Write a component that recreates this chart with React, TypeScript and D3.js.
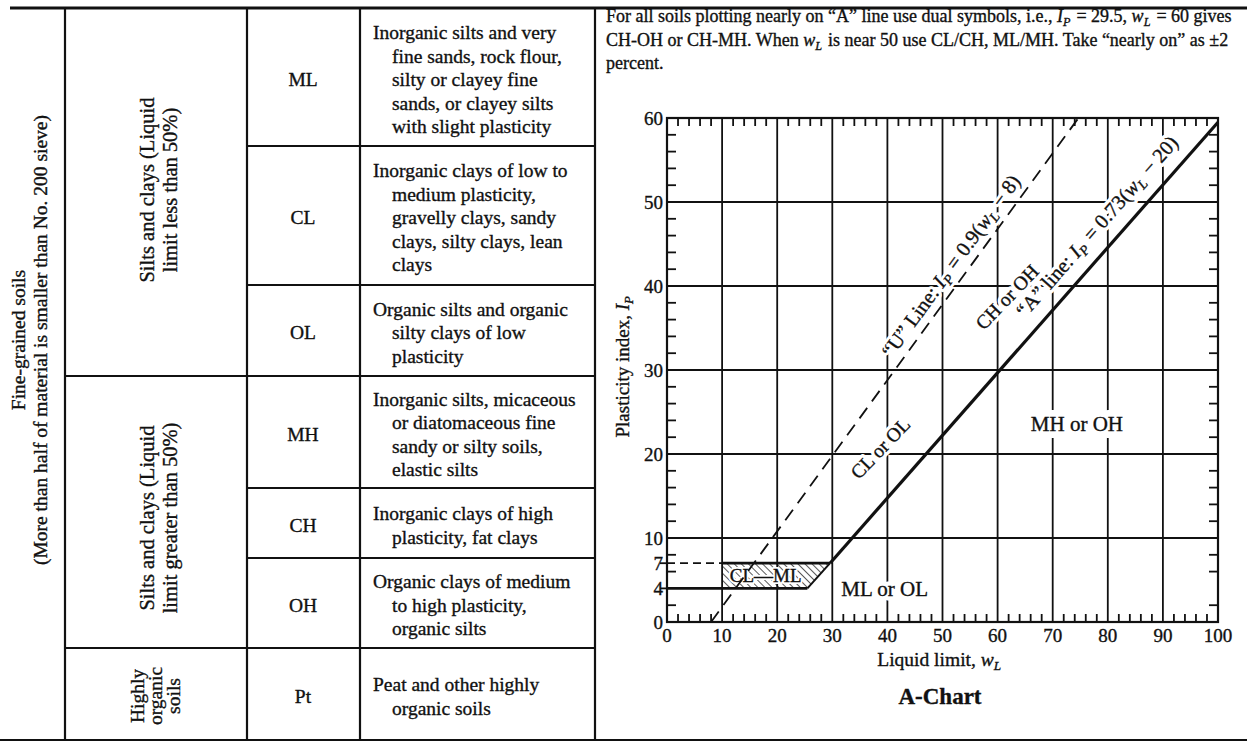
import React from "react";
import * as d3 from "d3";

// ---------- Table data ----------
const symbols = ["ML", "CL", "OL", "MH", "CH", "OH", "Pt"];
const descriptions = [
  ["Inorganic silts and very", "fine sands, rock flour,", "silty or clayey fine", "sands, or clayey silts", "with slight plasticity"],
  ["Inorganic clays of low to", "medium plasticity,", "gravelly clays, sandy", "clays, silty clays, lean", "clays"],
  ["Organic silts and organic", "silty clays of low", "plasticity"],
  ["Inorganic silts, micaceous", "or diatomaceous fine", "sandy or silty soils,", "elastic silts"],
  ["Inorganic clays of high", "plasticity, fat clays"],
  ["Organic clays of medium", "to high plasticity,", "organic silts"],
  ["Peat and other highly", "organic soils"],
];
const groupLow = ["Silts and clays (Liquid", "limit less than 50%)"];
const groupHigh = ["Silts and clays (Liquid", "limit greater than 50%)"];
const groupOrganic = ["Highly", "organic", "soils"];
const fineGrained = ["Fine-grained soils", "(More than half of material is smaller than No. 200 sieve)"];

// ---------- Chart data ----------
const xTickValues = [0, 10, 20, 30, 40, 50, 60, 70, 80, 90, 100];
const yTickLabels = [0, 4, 7, 10, 20, 30, 40, 50, 60];
const gridX = [10, 20, 30, 40, 50, 60, 70, 80, 90];
const gridY = [10, 20, 30, 40, 50];
const minorTicksX = [2, 4, 6, 8, 12, 14, 16, 18, 22, 24, 26, 28, 32, 34, 36, 38, 42, 44, 46, 48, 52, 54, 56, 58, 62, 64, 66, 68, 72, 74, 76, 78, 82, 84, 86, 88, 92, 94, 96, 98];
const minorTicksY = [2, 6, 8, 12, 14, 16, 18, 22, 24, 26, 28, 32, 34, 36, 38, 42, 44, 46, 48, 52, 54, 56, 58];
const uLine: [number, number][] = [[8, 0], [74.67, 60]];
const aLine: [number, number][] = [[29.59, 7], [100, 59.5]];
const line4: [number, number][] = [[0, 4], [25.48, 4]];
const line7Dashed: [number, number][] = [[0, 7], [10, 7]];
const line7: [number, number][] = [[10, 7], [29.59, 7]];
const clmlZone: [number, number][] = [[10, 4], [25.48, 4], [29.59, 7], [10, 7]];

const SERIF = "'Liberation Serif', 'Times New Roman', serif";

export default function App() {
  const x = d3.scaleLinear().domain([0, 100]).range([667, 1218]);
  const y = d3.scaleLinear().domain([0, 60]).range([622, 118]);
  const lineGen = d3.line<[number, number]>().x((d) => x(d[0])).y((d) => y(d[1]));
  const ang = (pts: [number, number][]) =>
    (Math.atan2(y(pts[1][1]) - y(pts[0][1]), x(pts[1][0]) - x(pts[0][0])) * 180) / Math.PI;
  const uAng = ang(uLine);
  const aAng = ang(aLine);

  const rowBounds = [9, 146, 285, 376, 488, 558, 648, 740];
  const fs = 19.5;
  const lh = 23.5;
  const lineW = 2.2;
  const ink = { stroke: "#111", strokeWidth: 0.35 };

  const chartLabel = (
    key: string,
    cx: number,
    cy: number,
    rot: number,
    content: React.ReactNode,
    size = 19.5,
    haloW = 7
  ) => (
    <g key={key}>
      <text
        transform={`translate(${x(cx)},${y(cy)}) rotate(${rot})`}
        textAnchor="middle"
        dy="0.35em"
        fontSize={size}
        fill="#fff"
        stroke="#fff"
        strokeWidth={haloW}
        strokeLinejoin="round"
      >
        {content}
      </text>
      <text
        transform={`translate(${x(cx)},${y(cy)}) rotate(${rot})`}
        textAnchor="middle"
        dy="0.35em"
        fontSize={size}
        fill="#111"
        {...ink}
      >
        {content}
      </text>
    </g>
  );

  const sub = (main: string, s: string) => (
    <>
      <tspan fontStyle="italic">{main}</tspan>
      <tspan fontStyle="italic" fontSize="0.68em" dy="4">{s}</tspan>
      <tspan dy="-4">{"\u200A"}</tspan>
    </>
  );

  return (
    <svg width={1247} height={742} style={{ position: "absolute", left: 0, top: 0, background: "#fff" }} fontFamily={SERIF} fill="#111">
      <defs>
        <pattern id="hatch" patternUnits="userSpaceOnUse" width="5" height="5" patternTransform="rotate(-45)">
          <line x1="0" y1="0" x2="0" y2="5" stroke="#111" strokeWidth="1.4" />
        </pattern>
      </defs>
      <rect x={0} y={0} width={1247} height={742} fill="#fff" />

      {/* ---------- Table frame ---------- */}
      <g stroke="#111" strokeWidth={lineW} fill="none">
        <line x1={10} y1={8} x2={1247} y2={8} strokeWidth={3} />
        <line x1={0} y1={740} x2={1247} y2={740} />
        <line x1={65} y1={8} x2={65} y2={740} />
        <line x1={247} y1={8} x2={247} y2={740} />
        <line x1={360} y1={8} x2={360} y2={740} />
        <line x1={595} y1={8} x2={595} y2={740} />
        {[146, 285, 488, 558].map((v) => (
          <line key={v} x1={247} y1={v} x2={595} y2={v} />
        ))}
        {[376, 648].map((v) => (
          <line key={v} x1={65} y1={v} x2={595} y2={v} />
        ))}
      </g>

      <g {...ink}>
        {/* Fine-grained label */}
        <text transform="translate(29,340) rotate(-90)" textAnchor="middle" fontSize={fs}>
          {fineGrained.map((t, i) => (
            <tspan key={i} x={0} y={i * 22 - 11} dy="0.35em">{t}</tspan>
          ))}
        </text>
        {/* Group labels */}
        <text transform="translate(158,190) rotate(-90)" textAnchor="middle" fontSize={20.5}>
          {groupLow.map((t, i) => (
            <tspan key={i} x={0} y={i * 23 - 11.5} dy="0.35em">{t}</tspan>
          ))}
        </text>
        <text transform="translate(158,518) rotate(-90)" textAnchor="middle" fontSize={20.5}>
          {groupHigh.map((t, i) => (
            <tspan key={i} x={0} y={i * 23 - 11.5} dy="0.35em">{t}</tspan>
          ))}
        </text>
        <text transform="translate(155,696) rotate(-90)" textAnchor="middle" fontSize={fs}>
          {groupOrganic.map((t, i) => (
            <tspan key={i} x={0} y={(i - 1) * 18} dy="0.35em">{t}</tspan>
          ))}
        </text>

        {/* Symbols and descriptions */}
        {symbols.map((s, i) => {
          const cy = (rowBounds[i] + rowBounds[i + 1]) / 2 + 2;
          const lines = descriptions[i];
          return (
            <g key={s}>
              <text x={303} y={cy} dy="0.35em" textAnchor="middle" fontSize={fs}>{s}</text>
              {lines.map((t, j) => (
                <text key={j} x={j === 0 ? 373 : 392} y={cy + (j - (lines.length - 1) / 2) * lh} dy="0.35em" fontSize={fs}>
                  {t}
                </text>
              ))}
            </g>
          );
        })}

        {/* ---------- Note ---------- */}
        <g fontSize={18}>
          <text x={606} y={22}>
            For all soils plotting nearly on “A” line use dual symbols, i.e., {sub("I", "P")} = 29.5, {sub("w", "L")} = 60 gives
          </text>
          <text x={606} y={46}>
            CH-OH or CH-MH. When {sub("w", "L")} is near 50 use CL/CH, ML/MH. Take “nearly on” as ±2
          </text>
          <text x={606} y={69}>percent.</text>
        </g>
      </g>

      {/* ---------- Chart ---------- */}
      <g stroke="#111" strokeWidth={1.8}>
        {gridX.map((v) => (
          <line key={"gx" + v} x1={x(v)} x2={x(v)} y1={y(0)} y2={y(60)} />
        ))}
        {gridY.map((v) => (
          <line key={"gy" + v} x1={x(0)} x2={x(100)} y1={y(v)} y2={y(v)} />
        ))}
        {minorTicksX.map((v) => (
          <g key={"mt" + v}>
            <line x1={x(v)} x2={x(v)} y1={y(0)} y2={y(0) - 8} />
            <line x1={x(v)} x2={x(v)} y1={y(60)} y2={y(60) + 8} />
          </g>
        ))}
        {minorTicksY.map((v) => (
          <g key={"my" + v}>
            <line x1={x(0)} x2={x(0) + 9} y1={y(v)} y2={y(v)} />
            <line x1={x(100)} x2={x(100) - 9} y1={y(v)} y2={y(v)} />
          </g>
        ))}
        {[4, 7].map((v) => (
          <line key={"ot" + v} x1={x(0) - 7} x2={x(0)} y1={y(v)} y2={y(v)} />
        ))}
      </g>

      {/* CL-ML hatched zone */}
      <path d={lineGen(clmlZone) + "Z"} fill="url(#hatch)" stroke="none" />

      {/* region labels with white halos (break gridlines) */}
      {chartLabel("clol", 38.7, 20.7, -46, "CL or OL", 19.5)}
      {chartLabel("choh", 61.7, 38.7, -46, "CH or OH", 19.5)}
      {chartLabel("mloh", 39.5, 4.0, 0, "ML or OL", 21, 9)}
      {chartLabel("mhoh", 74.4, 23.6, 0, "MH or OH", 21, 14)}
      {chartLabel("clml", 17.9, 5.6, 0, "CL—ML", 19, 4)}
      {chartLabel(
        "uline",
        51.5,
        42.4,
        uAng,
        <>“U” Line: {sub("I", "P")} = 0.9({sub("w", "L")} − 8)</>,
        20.5,
        6
      )}
      {chartLabel(
        "aline",
        78.0,
        47.1,
        aAng,
        <>“A” line: {sub("I", "P")} = 0.73({sub("w", "L")} − 20)</>,
        20.5,
        7
      )}

      {/* lines */}
      <g fill="none" stroke="#111">
        <path d={lineGen(uLine)!} strokeWidth={1.8} strokeDasharray="13,8" />
        <path d={lineGen(line7Dashed)!} strokeWidth={1.8} strokeDasharray="8,5" />
        <path d={lineGen(aLine)!} strokeWidth={3.2} />
        <path d={lineGen(line4)!} strokeWidth={2.8} />
        <path d={lineGen(line7)!} strokeWidth={2.8} />
        <path d={lineGen([clmlZone[1], clmlZone[2]])!} strokeWidth={2} />
      </g>

      {/* frame */}
      <rect x={x(0)} y={y(60)} width={x(100) - x(0)} height={y(0) - y(60)} fill="none" stroke="#111" strokeWidth={2.2} />

      {/* tick labels */}
      <g fontSize={19} {...ink}>
        {xTickValues.map((v) => (
          <text key={"xl" + v} x={x(v)} y={y(0) + 20} textAnchor="middle">{v}</text>
        ))}
        {yTickLabels.map((v) => (
          <text key={"yl" + v} x={x(0) - 4} y={y(v)} dy="0.35em" textAnchor="end">{v}</text>
        ))}
      </g>

      {/* axis titles */}
      <g {...ink}>
        <text x={940} y={666} textAnchor="middle" fontSize={19.5}>
          Liquid limit, {sub("w", "L")}
        </text>
        <text transform="translate(622,366) rotate(-90)" textAnchor="middle" dy="0.35em" fontSize={19}>
          Plasticity index, {sub("I", "P")}
        </text>
        <text x={940} y={704} textAnchor="middle" fontSize={23} fontWeight="bold">A-Chart</text>
      </g>
    </svg>
  );
}
